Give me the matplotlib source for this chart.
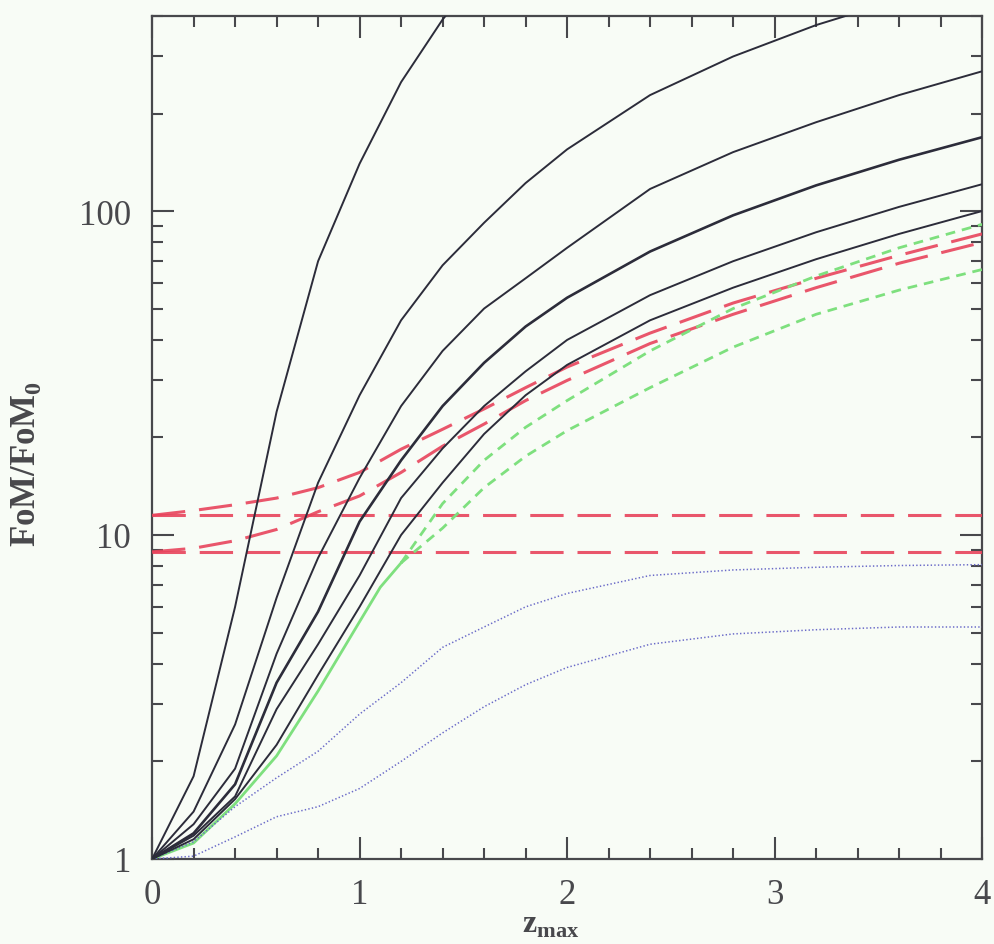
import numpy as np
import matplotlib
matplotlib.use("Agg")
import matplotlib.pyplot as plt
from matplotlib.ticker import FixedLocator, NullFormatter, FixedFormatter

plt.rcParams['font.family'] = ['Liberation Serif', 'DejaVu Serif']
plt.rcParams['lines.scale_dashes'] = False

nan = np.nan

# redshift grid
zmax = [0, 0.2, 0.4, 0.6, 0.8, 1.0, 1.2, 1.4, 1.6, 1.8, 2.0, 2.4, 2.8, 3.2, 3.6, 4.0]

# black solid curves (top to bottom)
fom_1 = [1, 1.8, 6.0, 24, 70, 140, 250, 390, 560, nan, nan, nan, nan, nan, nan, nan]
fom_2 = [1, 1.4, 2.6, 6.4, 14.5, 27, 46, 68, 92, 122, 155, 228, 300, 375, 450, 520]
fom_3 = [1, 1.28, 1.9, 4.3, 8.5, 15, 25, 37, 50, 62, 77, 117, 152, 188, 228, 270]
fom_4 = [1, 1.2, 1.7, 3.5, 5.8, 11, 17, 25, 34, 44, 54, 75, 97, 120, 144, 169]
fom_5 = [1, 1.18, 1.56, 2.9, 4.6, 7.5, 13, 18.5, 25, 32, 40, 55, 70, 86, 103, 121]
fom_6 = [1, 1.15, 1.53, 2.25, 3.7, 6.0, 10, 14.5, 20.5, 27, 33.5, 46, 58, 71, 85, 100]

# red long-dashed: two flat levels and two rising curves
red_flat = [11.5, 8.87]
red_up = [11.5, 11.9, 12.4, 13.0, 14.0, 15.6, 18.4, 21.2, 24.5, 28.5, 33, 42, 52, 62, 73, 85]
red_lo = [8.87, 9.1, 9.6, 10.4, 11.8, 13.2, 15.6, 18.8, 22, 26, 30, 39, 48, 58, 69, 80]

# green: solid at low z, then two short-dashed branches
green_z = [0, 0.2, 0.4, 0.6, 0.8, 1.0, 1.1, 1.2]
green_solid = [1, 1.12, 1.48, 2.08, 3.3, 5.4, 6.9, 8.2]
green_dz = [1.2, 1.4, 1.6, 1.8, 2.0, 2.4, 2.8, 3.2, 3.6, 4.0]
green_up = [8.2, 12.5, 17, 21.5, 26, 37, 50, 63, 77, 91]
green_lo = [8.2, 10.5, 14, 17.5, 21, 28.5, 38, 48, 57, 66]

# blue dotted
blue_up = [1, 1.13, 1.45, 1.78, 2.15, 2.8, 3.5, 4.5, 5.2, 6.0, 6.6, 7.5, 7.8, 7.95, 8.05, 8.1]
blue_lo = [1, 1.02, 1.17, 1.35, 1.45, 1.65, 2.0, 2.45, 2.95, 3.45, 3.9, 4.6, 4.95, 5.1, 5.2, 5.2]

bg = '#f8fcf6'
ink = '#48484c'
fig = plt.figure(figsize=(9.94, 9.45), dpi=100, facecolor=bg)
ax = fig.add_axes([0.153, 0.09, 0.835, 0.892])
ax.set_facecolor(bg)
ax.set_yscale('log')

black = '#2c2c3a'
for f, lw in [(fom_1, 1.4), (fom_2, 1.4), (fom_3, 1.4), (fom_4, 1.9), (fom_5, 1.4), (fom_6, 1.4)]:
    ax.plot(zmax, f, color=black, lw=lw, zorder=4)

red = '#e8445c'
for lvl in red_flat:
    ax.plot([zmax[0], zmax[-1]], [lvl, lvl], color=red, lw=2.2, dashes=(24, 10), alpha=0.9, zorder=3)
ax.plot(zmax, red_up, color=red, lw=2.2, dashes=(24, 10), alpha=0.9, zorder=3)
ax.plot(zmax, red_lo, color=red, lw=2.2, dashes=(24, 10), alpha=0.9, zorder=3)

green = '#7ee07e'
ax.plot(green_z, green_solid, color=green, lw=2.0, zorder=3)
ax.plot(green_dz, green_up, color=green, lw=2.0, dashes=(7, 5), zorder=3)
ax.plot(green_dz, green_lo, color=green, lw=2.0, dashes=(7, 5), zorder=3)

blue = '#6a6ac8'
ax.plot(zmax, blue_up, color=blue, lw=1.1, dashes=(1, 1.6), zorder=3)
ax.plot(zmax, blue_lo, color=blue, lw=1.1, dashes=(1, 1.6), zorder=3)

ax.set_xlim(0, 4)
ax.set_ylim(1, 400)

ax.xaxis.set_major_locator(FixedLocator([0, 1, 2, 3, 4]))
ax.xaxis.set_minor_locator(FixedLocator(np.arange(0, 4.01, 0.2)))
ax.yaxis.set_major_locator(FixedLocator([1, 10, 100]))
ax.yaxis.set_major_formatter(FixedFormatter(['1', '10', '100']))
ax.yaxis.set_minor_locator(FixedLocator([m * 10 ** e for e in range(3) for m in range(2, 10)]))
ax.yaxis.set_minor_formatter(NullFormatter())

ax.tick_params(which='both', direction='in', top=True, right=True, colors=ink, width=1.5)
ax.tick_params(which='major', length=16, labelsize=25)
ax.tick_params(which='minor', length=8)
ax.tick_params(axis='x', which='major', pad=14)
ax.tick_params(axis='y', which='major', pad=15)
for s in ax.spines.values():
    s.set_color(ink)
    s.set_linewidth(1.6)

ax.set_xlabel(r'z$_{\mathregular{max}}$', fontsize=23, color=ink, fontweight='bold')
ax.xaxis.set_label_coords(0.48, -0.06)
ax.set_ylabel(r'FoM/FoM$_{\mathregular{0}}$', fontsize=25, color=ink, fontweight='bold')
ax.yaxis.set_label_coords(-0.132, 0.47)

fig.savefig('out.png', dpi=100, facecolor=bg)
